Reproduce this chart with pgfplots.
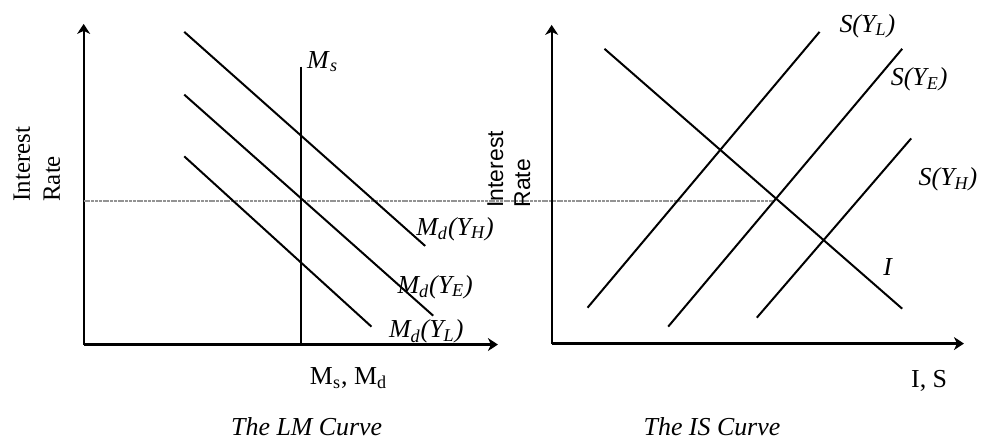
\documentclass[border=0pt]{standalone}
\usepackage{fontspec}
\setmainfont{Liberation Serif}
\setsansfont{Liberation Sans}
\usepackage{pgfplots}
\pgfplotsset{compat=1.18}
\usetikzlibrary{arrows.meta}
\newcommand{\lab}{\fontsize{13}{15}\selectfont}
\begin{document}
\begin{tikzpicture}
\path (0,0) rectangle (492pt,220pt);
% ---------- LM panel ----------
\begin{axis}[
  at={(42pt,47pt)}, anchor=south west,
  scale only axis, x=0.5pt, y=0.5pt,
  xmin=84, xmax=500, ymin=94, ymax=416,
  axis lines=left, xtick=\empty, ytick=\empty,
  axis line style={line width=1.1pt, -{Stealth[length=5pt,width=6.5pt,inset=1.5pt]}},
  clip=false,
]
\addplot[gray!85, line width=1.2pt, dash pattern=on 1.5pt off 0.4pt] coordinates {(84,238) (778,238)};
\addplot[black, line width=1pt] coordinates {(185,408) (427,193)};
\addplot[black, line width=1pt] coordinates {(185,345) (435,123)};
\addplot[black, line width=1pt] coordinates {(185,283) (373,112)};
\addplot[black, line width=1pt] coordinates {(302,373) (302,94)};
\node[font=\lab] at (axis cs:324,378) {\textit{M}\textsubscript{\textit{s}}};
\node[font=\lab] at (axis cs:457,210) {\textit{M\textsubscript{d}(Y\textsubscript{H})}};
\node[font=\lab] at (axis cs:437,152) {\textit{M\textsubscript{d}(Y\textsubscript{E})}};
\node[font=\lab] at (axis cs:428,107) {\textit{M\textsubscript{d}(Y\textsubscript{L})}};
\node[font=\lab] at (axis cs:350,60) {M\textsubscript{s}, M\textsubscript{d}};
\node[font=\lab] at (axis cs:308,12) {\textit{The LM Curve}};
\node[font=\fontsize{12.5}{15}\selectfont, rotate=90, align=left, inner sep=0pt] at (axis cs:37,275) {Interest\\Rate};
\end{axis}
% ---------- IS panel ----------
\begin{axis}[
  at={(277pt,47.5pt)}, anchor=south west,
  scale only axis, x=0.5pt, y=0.5pt,
  xmin=554, xmax=968, ymin=95, ymax=415,
  axis lines=left, xtick=\empty, ytick=\empty,
  axis line style={line width=1.1pt, -{Stealth[length=5pt,width=6.5pt,inset=1.5pt]}},
  clip=false,
]
\addplot[black, line width=1pt] coordinates {(607,391) (906,130)};
\addplot[black, line width=1pt] coordinates {(590,131) (823,408)};
\addplot[black, line width=1pt] coordinates {(671,112) (906,391)};
\addplot[black, line width=1pt] coordinates {(760,121) (915,301)};
\node[font=\lab] at (axis cs:871,414) {\textit{S(Y\textsubscript{L})}};
\node[font=\lab] at (axis cs:923,360) {\textit{S(Y\textsubscript{E})}};
\node[font=\lab] at (axis cs:952,260) {\textit{S(Y\textsubscript{H})}};
\node[font=\lab] at (axis cs:892,172) {\textit{I}};
\node[font=\lab] at (axis cs:933,57) {I, S};
\node[font=\lab] at (axis cs:715,12) {\textit{The IS Curve}};
\node[font=\sffamily\fontsize{11.5}{13.5}\selectfont, rotate=90, align=left, inner sep=0pt] at (axis cs:511,270) {Interest\\Rate};
\end{axis}
\end{tikzpicture}
\end{document}
